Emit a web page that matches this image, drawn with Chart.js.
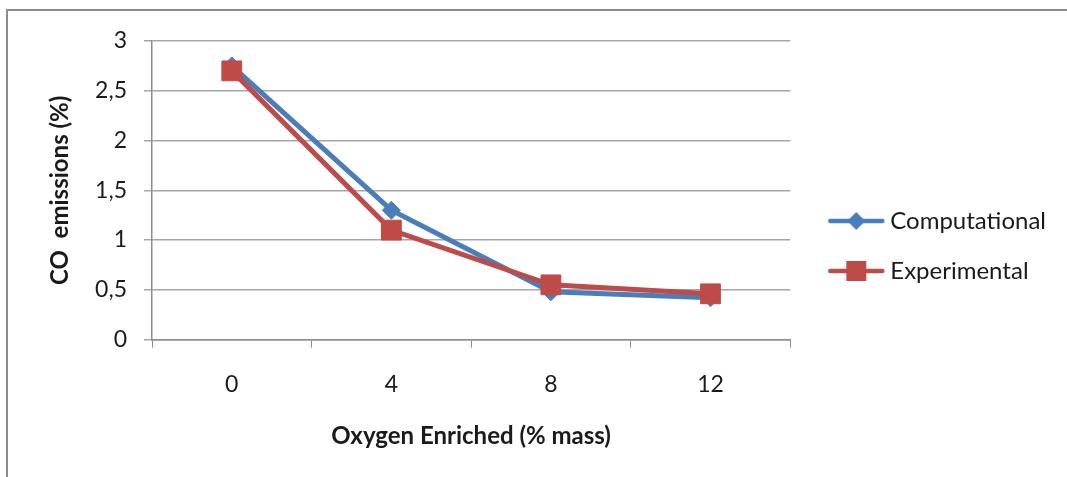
<!DOCTYPE html>
<html>
<head>
<meta charset="utf-8">
<script src="https://cdn.jsdelivr.net/npm/chart.js@4/dist/chart.umd.min.js"></script>
<style>
  html, body { margin: 0; overflow: hidden; background: #fff; }
  canvas { display: block; }
</style>
</head>
<body>
<canvas id="coChart" width="1067" height="477"></canvas>
<script>
// data
const oxygenLevels = ['0', '4', '8', '12'];
const computational = [2.75, 1.3, 0.48, 0.42];
const experimental = [2.7, 1.1, 0.55, 0.46];

const blue = '#4A7EBB';
const red = '#BE4B48';
const font = 'Lato, "Open Sans", sans-serif';

// legend sample: short line with the marker on it
function legendSample(color, shape) {
    const c = document.createElement('canvas');
    c.width = 82;
    c.height = 24;
    const g = c.getContext('2d');
    g.strokeStyle = color;
    g.lineWidth = 4.5;
    g.lineCap = 'round';
    g.beginPath();
    g.moveTo(24, 12);
    g.lineTo(76, 12);
    g.stroke();
    g.fillStyle = color;
    g.beginPath();
    if (shape === 'diamond') {
        g.moveTo(50, 3); g.lineTo(59, 12); g.lineTo(50, 21); g.lineTo(41, 12);
    } else {
        g.rect(40, 2, 20, 20);
    }
    g.fill();
    return c;
}

// grey frame around the chart, like the pasted Excel picture
const framePlugin = {
    id: 'frame',
    beforeDraw(chart) {
        const ctx = chart.ctx;
        ctx.save();
        ctx.strokeStyle = '#8c8c8c';
        ctx.lineWidth = 2;
        ctx.strokeRect(7, 10, 1200, 600);
        ctx.restore();
    }
};

new Chart(document.getElementById('coChart'), {
    type: 'line',
    data: {
        labels: oxygenLevels,
        datasets: [{
            label: 'Computational',
            data: computational,
            borderColor: blue,
            backgroundColor: blue,
            borderWidth: 5,
            pointStyle: 'rectRot',
            pointRadius: 9,
            pointBorderWidth: 1,
            order: 1
        }, {
            label: 'Experimental',
            data: experimental,
            borderColor: red,
            backgroundColor: red,
            borderWidth: 5,
            pointStyle: 'rect',
            pointRadius: 14,
            pointBorderWidth: 1,
            order: 0
        }]
    },
    options: {
        responsive: false,
        animation: false,
        layout: { padding: { left: 44, top: 41, right: 11, bottom: 26 } },
        plugins: {
            tooltip: { enabled: false },
            legend: {
                position: 'right',
                maxWidth: 320,
                labels: {
                    usePointStyle: true,
                    pointStyleWidth: 62,
                    padding: 26,
                    color: '#1a1a1a',
                    font: { family: font, size: 24 },
                    generateLabels(chart) {
                        return chart.data.datasets.map((ds, i) => ({
                            text: ds.label,
                            datasetIndex: i,
                            pointStyle: legendSample(ds.borderColor, i === 0 ? 'diamond' : 'square'),
                            fillStyle: ds.borderColor,
                            strokeStyle: ds.borderColor,
                            lineWidth: 0,
                            fontColor: '#1a1a1a'
                        }));
                    }
                }
            }
        },
        scales: {
            x: {
                offset: true,
                grid: {
                    offset: true,
                    drawOnChartArea: false,
                    tickLength: 8,
                    color: '#8c8c8c'
                },
                border: { color: '#8c8c8c', width: 1.5 },
                ticks: { color: '#1a1a1a', padding: 23, font: { family: font, size: 23 } },
                title: {
                    display: true,
                    text: 'Oxygen Enriched (% mass)',
                    color: '#1a1a1a',
                    padding: { top: 1, bottom: 0 },
                    font: { family: font, size: 24, weight: 'bold' }
                }
            },
            y: {
                min: 0,
                max: 3,
                // fixed axis width so the title and labels sit where Excel put them
                afterFit(scale) {
                    scale.width = 108;
                },
                ticks: {
                    stepSize: 0.5,
                    color: '#1a1a1a',
                    padding: 17,
                    font: { family: font, size: 23 },
                    callback: v => String(v).replace('.', ',')
                },
                grid: { color: '#a6a6a6', lineWidth: 1.5, tickLength: 8 },
                border: { color: '#8c8c8c', width: 1.5 },
                title: {
                    display: true,
                    text: 'CO  emissions (%)',
                    color: '#1a1a1a',
                    padding: { top: 2, bottom: 7 },
                    font: { family: font, size: 24, weight: 'bold' }
                }
            }
        }
    },
    plugins: [framePlugin]
});
</script>
</body>
</html>
